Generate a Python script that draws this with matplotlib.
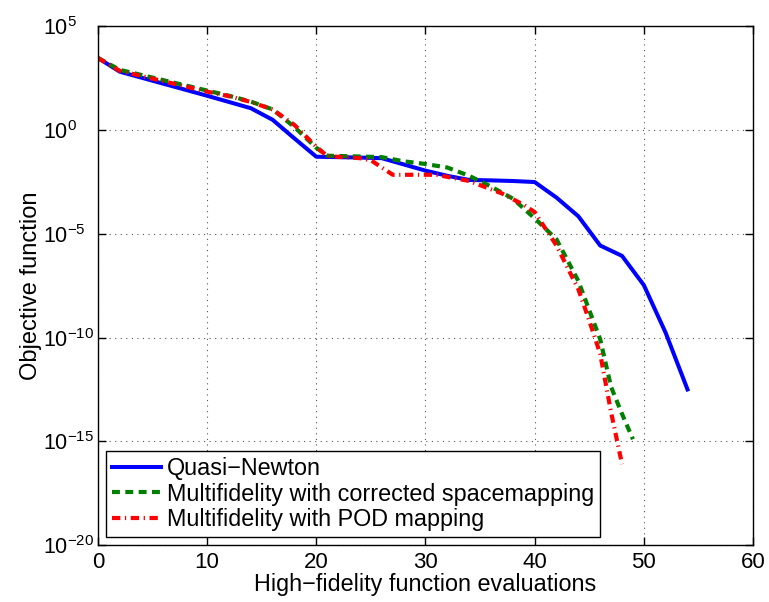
import numpy as np
import matplotlib.pyplot as plt
from matplotlib.ticker import NullLocator

plt.rcParams['font.family'] = ['Liberation Sans', 'DejaVu Sans']
plt.rcParams['mathtext.fontset'] = 'custom'
plt.rcParams['mathtext.rm'] = 'Liberation Sans'
plt.rcParams['mathtext.it'] = 'Liberation Sans'

# --- data (objective values as log10 exponents) ---
qn_evals = [0, 2, 4, 6, 8, 10, 12, 14, 16, 18, 20, 22, 24, 26, 28, 30, 32, 34,
            36, 38, 40, 42, 44, 46, 48, 50, 52, 54]
qn_log = [3.48, 2.82, 2.53, 2.24, 1.95, 1.66, 1.36, 1.06, 0.5, -0.4, -1.28, -1.3,
          -1.32, -1.35, -1.65, -1.95, -2.2, -2.4, -2.42, -2.45, -2.5, -3.25,
          -4.15, -5.56, -6.06, -7.47, -9.77, -12.5]

sm_evals = [0, 2, 4, 6, 8, 10, 12, 14, 16, 18, 20, 21, 24, 26, 28, 30, 32, 34,
            36, 38, 40, 42, 44, 46, 47, 48, 49]
sm_log = [3.48, 2.91, 2.66, 2.41, 2.16, 1.91, 1.66, 1.38, 1.0, 0.15, -0.85, -1.23,
          -1.27, -1.3, -1.5, -1.63, -1.8, -2.2, -2.72, -3.3, -4.25, -5.26,
          -7.27, -10.08, -12.38, -13.68, -14.9]

pod_evals = [0, 2, 4, 6, 8, 10, 12, 14, 16, 18, 20, 21, 24, 25, 26, 27, 31, 34,
             37, 39, 40, 42, 44, 45, 46, 47, 48]
pod_log = [3.48, 2.86, 2.61, 2.36, 2.11, 1.86, 1.64, 1.36, 1.0, 0.25, -0.8, -1.25,
           -1.35, -1.45, -1.8, -2.15, -2.15, -2.45, -3.05, -3.6, -3.95, -5.56,
           -7.67, -9.18, -10.78, -13.6, -16.1]

labels = ['Quasi\u2212Newton',
          'Multifidelity with corrected spacemapping',
          'Multifidelity with POD mapping']

fig = plt.figure(figsize=(7.69, 6.02), dpi=100)
ax = fig.add_axes([0.1274, 0.0947, 0.8518, 0.8613])

ax.semilogy(qn_evals, np.power(10.0, qn_log), color='#0000ff', lw=2.9,
            label=labels[0])
ax.semilogy(sm_evals, np.power(10.0, sm_log), color='#008000', lw=3.0,
            ls=(0, (1.9, 1.3)), label=labels[1])
ax.semilogy(pod_evals, np.power(10.0, pod_log), color='#ff0000', lw=3.0,
            ls=(0, (2.0, 1.1, 0.3, 1.1)), label=labels[2])

ax.set_xlim(0, 60)
ax.set_ylim(1e-20, 1e5)
ax.set_xticks(np.arange(0, 61, 10))
ax.set_yticks([10.0**k for k in range(-20, 6, 5)])
ax.yaxis.set_minor_locator(NullLocator())

ax.grid(True, which='major', ls=(0, (1, 4)), color='#555555', lw=0.8)
ax.tick_params(direction='in', length=6, width=1, top=True, right=True)
ax.tick_params(axis='x', labelsize=16, pad=5)
ax.tick_params(axis='y', labelsize=15.5, pad=39.5)
for lab in ax.get_yticklabels():
    lab.set_ha('left')
for s in ax.spines.values():
    s.set_linewidth(1.0)

ax.set_xlabel('High\u2212fidelity function evaluations', fontsize=16.8,
              labelpad=0)
ax.set_ylabel('Objective function', fontsize=17, labelpad=1)

leg = ax.legend(loc='lower left', prop={'size': 16.8}, frameon=True,
                fancybox=False, edgecolor='black', framealpha=1,
                borderaxespad=0.35, handlelength=2.1, handletextpad=0.25,
                labelspacing=0.1, borderpad=0.25)
leg.get_frame().set_linewidth(1.0)

fig.savefig('out.png', dpi=100)
